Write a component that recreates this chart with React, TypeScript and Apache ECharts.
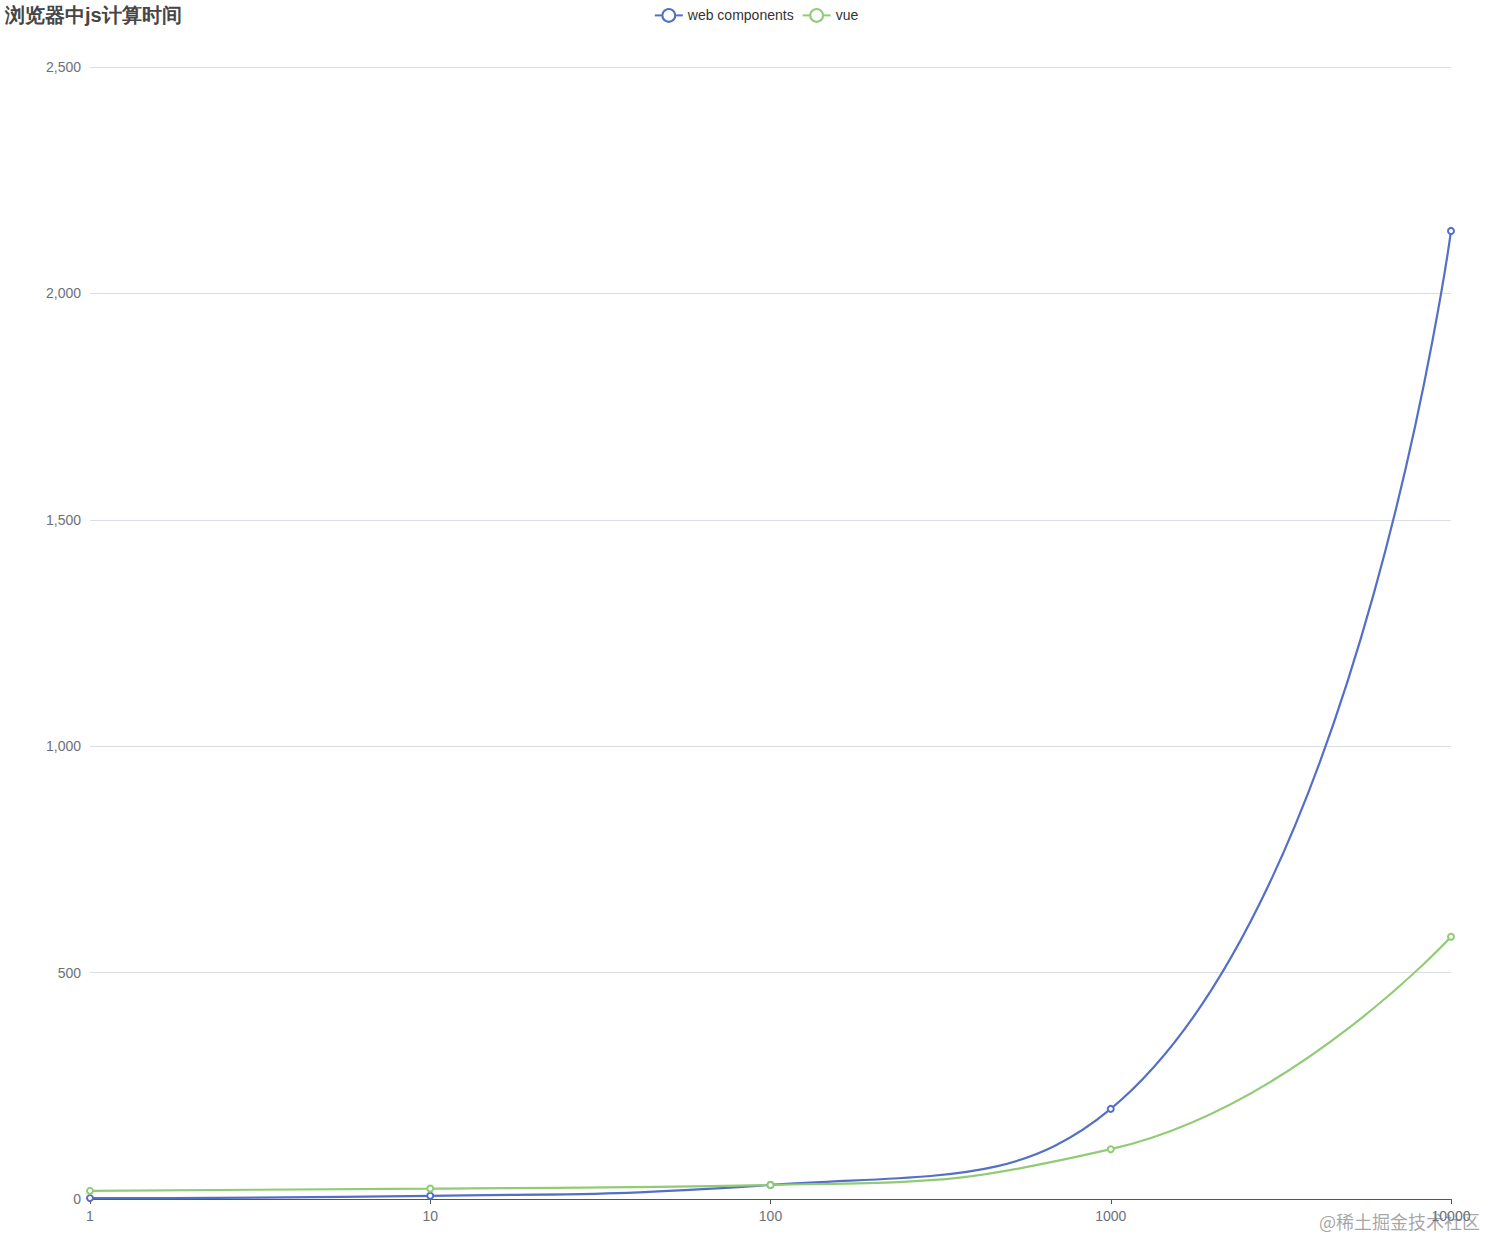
import React, { useEffect, useRef } from "react";
import * as echarts from "echarts";

const categories = ["1", "10", "100", "1000", "10000"];
const webComponents = [2, 7, 31, 199, 2138];
const vue = [18, 23, 31, 110, 579];
const seriesNames = ["web components", "vue"];

export default function App() {
  const ref = useRef<HTMLDivElement>(null);
  useEffect(() => {
    const chart = echarts.init(ref.current!, undefined, { renderer: "svg" });
    chart.setOption({
      animation: false,
      color: ["#5470c6", "#91cc75"],
      title: {
        text: "浏览器中js计算时间",
        left: 0,
        top: 0,
        textStyle: { fontSize: 20, fontWeight: "bold", color: "#464646" },
      },
      legend: {
        data: seriesNames,
        top: 3,
        left: "center",
        itemWidth: 28,
        itemHeight: 16,
        textStyle: { fontSize: 14, color: "#333" },
      },
      grid: { left: 90, right: 61, top: 67, bottom: 61 },
      xAxis: {
        type: "category",
        boundaryGap: false,
        data: categories,
        axisLabel: { fontSize: 14, color: "#6e7079", margin: 10 },
        axisTick: { alignWithLabel: true },
      },
      yAxis: {
        type: "value",
        min: 0,
        max: 2500,
        interval: 500,
        axisLabel: { fontSize: 14, color: "#6e7079", margin: 9 },
      },
      series: [
        {
          name: seriesNames[0],
          type: "line",
          smooth: true,
          data: webComponents,
          symbol: "emptyCircle",
          symbolSize: 6,
          lineStyle: { width: 2.2 },
        },
        {
          name: seriesNames[1],
          type: "line",
          smooth: true,
          data: vue,
          symbol: "emptyCircle",
          symbolSize: 6,
          lineStyle: { width: 2.2 },
        },
      ],
      graphic: [
        {
          type: "text",
          right: 32,
          bottom: 30,
          style: {
            text: "@稀土掘金技术社区",
            fontSize: 18,
            fill: "rgba(150,150,150,0.85)",
            fontFamily: "Noto Sans CJK SC",
          },
        },
      ],
    });
    return () => chart.dispose();
  }, []);
  return <div ref={ref} style={{ width: 1512, height: 1260, position: "absolute", left: 0, top: 0 }} />;
}
